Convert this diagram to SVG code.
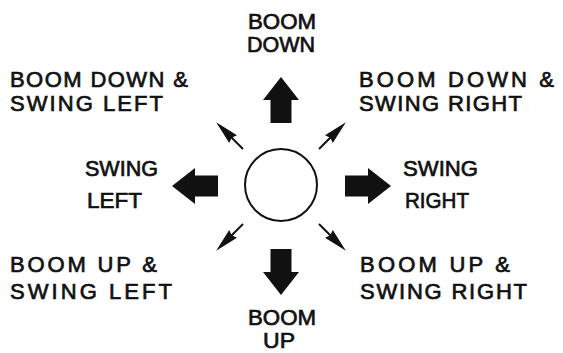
<svg xmlns="http://www.w3.org/2000/svg" width="563" height="353" viewBox="0 0 563 353">
<style>
.t{font-family:"Liberation Sans",Arial,Helvetica,sans-serif;font-size:22px;font-weight:normal;fill:#111;stroke:#111;stroke-width:0.7}
.big{fill:#111}
.thin{stroke:#111;stroke-width:2;fill:none}
.head{fill:#111}
</style>
<defs>
<path id="bigArrow" class="big" d="M0,-10.5 H23 V-18 L46,0 L23,18 V10.5 H0 Z"/>
<g id="smallArrow">
<line class="thin" x1="0" y1="0" x2="18" y2="0"/>
<path class="head" d="M14,-5.5 L38,0 L14,5.5 L16,0 Z"/>
</g>
</defs>
<rect width="563" height="353" fill="#fff"/>
<g id="center">
<circle cx="281" cy="185" r="36" fill="#fff" stroke="#111" stroke-width="2"/>
</g>
<g id="connectors">
<use href="#bigArrow" transform="translate(281,123) rotate(-90)"/>
<use href="#bigArrow" transform="translate(281,249) rotate(90)"/>
<use href="#bigArrow" transform="translate(218,186) rotate(180)"/>
<use href="#bigArrow" transform="translate(345,186)"/>
<use href="#smallArrow" transform="translate(243,149) rotate(-135)"/>
<use href="#smallArrow" transform="translate(319,149) rotate(-45)"/>
<use href="#smallArrow" transform="translate(243,224) rotate(135)"/>
<use href="#smallArrow" transform="translate(319,224) rotate(45)"/>
</g>
<g id="boom-down">
<text class="t" x="248" y="29" textLength="68" lengthAdjust="spacingAndGlyphs">BOOM</text>
<text class="t" x="247" y="52" textLength="68" lengthAdjust="spacingAndGlyphs">DOWN</text>
</g>
<g id="boom-down-swing-left">
<text class="t" x="10" y="87" textLength="178" lengthAdjust="spacing">BOOM DOWN &amp;</text>
<text class="t" x="10" y="111" textLength="153" lengthAdjust="spacing">SWING LEFT</text>
</g>
<g id="boom-down-swing-right">
<text class="t" x="359" y="87" textLength="195" lengthAdjust="spacing">BOOM DOWN &amp;</text>
<text class="t" x="359" y="111" textLength="163" lengthAdjust="spacing">SWING RIGHT</text>
</g>
<g id="swing-left">
<text class="t" x="85" y="176" textLength="73" lengthAdjust="spacingAndGlyphs">SWING</text>
<text class="t" x="87" y="208" textLength="55" lengthAdjust="spacingAndGlyphs">LEFT</text>
</g>
<g id="swing-right">
<text class="t" x="403" y="176" textLength="75" lengthAdjust="spacingAndGlyphs">SWING</text>
<text class="t" x="405" y="208" textLength="64" lengthAdjust="spacingAndGlyphs">RIGHT</text>
</g>
<g id="boom-up-swing-left">
<text class="t" x="10" y="272" textLength="147" lengthAdjust="spacing">BOOM UP &amp;</text>
<text class="t" x="10" y="299" textLength="162" lengthAdjust="spacing">SWING LEFT</text>
</g>
<g id="boom-up-swing-right">
<text class="t" x="360" y="272" textLength="150" lengthAdjust="spacing">BOOM UP &amp;</text>
<text class="t" x="360" y="299" textLength="167" lengthAdjust="spacing">SWING RIGHT</text>
</g>
<g id="boom-up">
<text class="t" x="248" y="325" textLength="68" lengthAdjust="spacingAndGlyphs">BOOM</text>
<text class="t" x="263" y="348" textLength="32" lengthAdjust="spacingAndGlyphs">UP</text>
</g>
</svg>
